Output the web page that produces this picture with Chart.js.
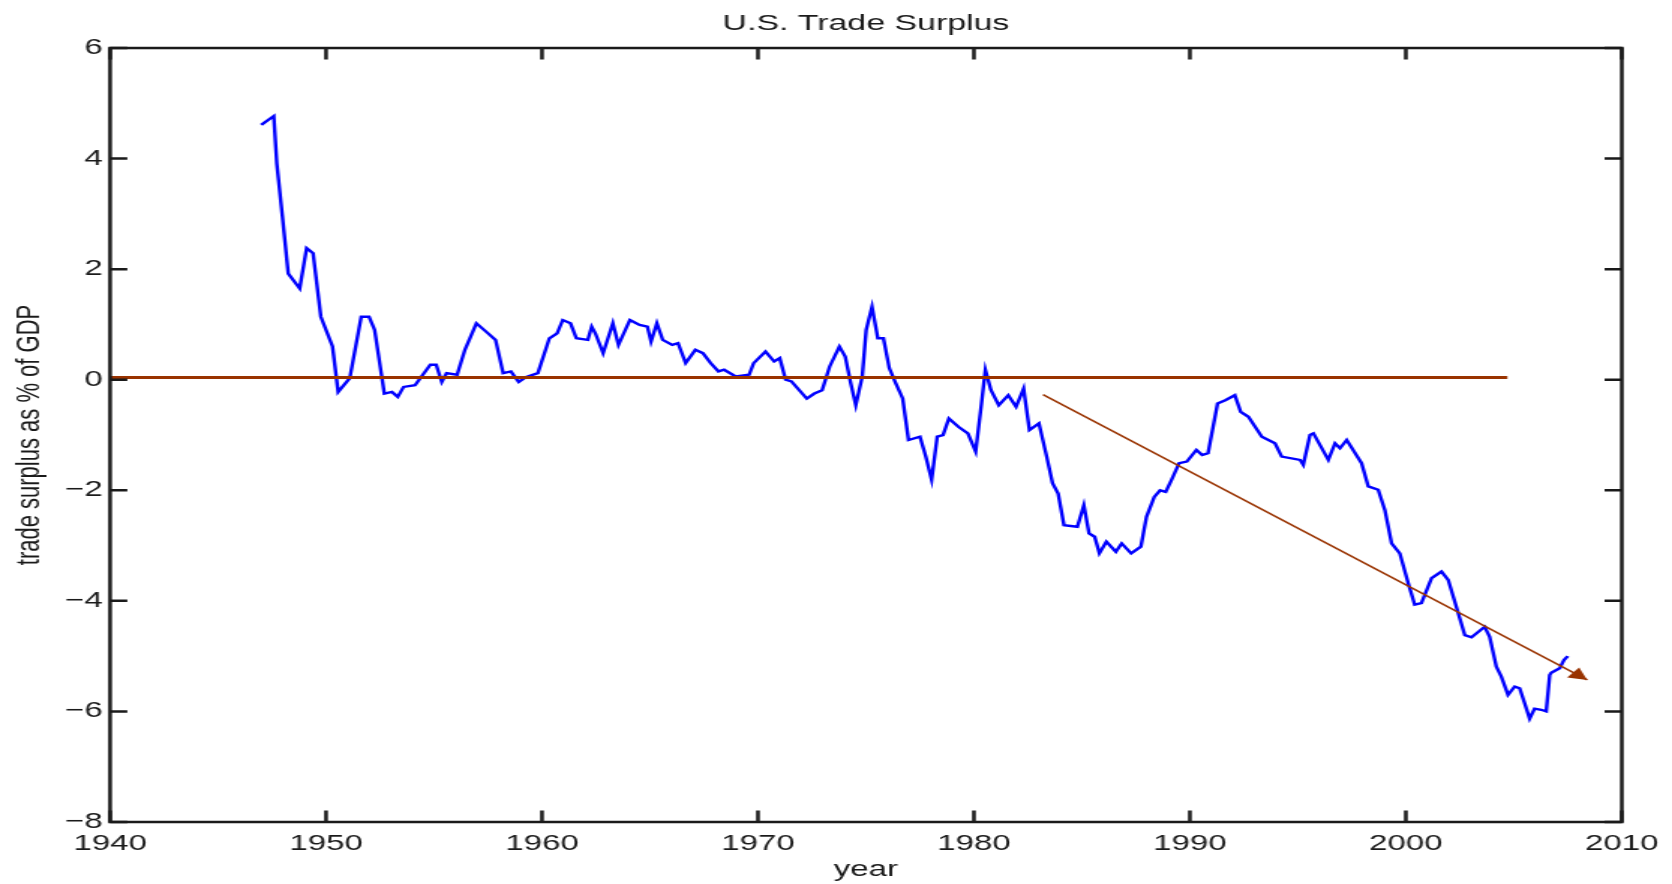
<!DOCTYPE html>
<html>
<head>
<meta charset="utf-8">
<title>U.S. Trade Surplus</title>
<script src="https://cdn.jsdelivr.net/npm/chart.js@4.4.0/dist/chart.umd.min.js"></script>
<style>
  html, body { margin: 0; padding: 0; background: #fff; overflow: hidden; }
  /* the original figure was stretched sideways, so the chart is drawn narrow and widened */
  #wrap { width: 1115px; height: 884px; transform: scaleX(1.49955); transform-origin: 0 0; }
</style>
</head>
<body>
<div id="wrap"><canvas id="trade-chart"></canvas></div>
<script>
var years = [
  1947.0, 1947.58, 1947.72, 1947.98, 1948.25, 1948.78, 1949.1, 1949.4, 1949.76, 1950.3,
  1950.56, 1951.1, 1951.63, 1951.99, 1952.25, 1952.7, 1953.05, 1953.32, 1953.59, 1954.12,
  1954.83, 1955.1, 1955.36, 1955.58, 1956.07, 1956.43, 1956.96, 1957.41, 1957.85, 1958.2,
  1958.56, 1958.92, 1959.27, 1959.81, 1960.34, 1960.7, 1960.96, 1961.32, 1961.59, 1962.12,
  1962.3, 1962.47, 1962.83, 1963.28, 1963.54, 1964.07, 1964.52, 1964.88, 1965.05, 1965.32,
  1965.59, 1966.03, 1966.3, 1966.65, 1967.1, 1967.45, 1967.81, 1968.17, 1968.43, 1968.97,
  1969.59, 1969.8, 1970.35, 1970.75, 1971.01, 1971.28, 1971.55, 1972.26, 1972.61, 1972.97,
  1973.32, 1973.77, 1974.04, 1974.3, 1974.53, 1974.83, 1975.01, 1975.28, 1975.55, 1975.81,
  1976.08, 1976.35, 1976.7, 1976.97, 1977.5, 1977.77, 1978.04, 1978.3, 1978.57, 1978.84,
  1979.28, 1979.72, 1980.08, 1980.35, 1980.53, 1980.79, 1981.15, 1981.59, 1981.95, 1982.3,
  1982.57, 1983.01, 1983.37, 1983.64, 1983.9, 1984.17, 1984.79, 1985.09, 1985.33, 1985.59,
  1985.81, 1986.13, 1986.57, 1986.84, 1987.28, 1987.73, 1987.99, 1988.35, 1988.62, 1988.88,
  1989.15, 1989.5, 1989.86, 1990.3, 1990.57, 1990.84, 1991.28, 1991.64, 1992.08, 1992.35,
  1992.71, 1993.33, 1993.94, 1994.25, 1995.1, 1995.25, 1995.56, 1995.72, 1996.41, 1996.72,
  1996.95, 1997.26, 1997.95, 1998.26, 1998.72, 1999.03, 1999.34, 1999.72, 2000.11, 2000.41,
  2000.72, 2001.19, 2001.65, 2001.96, 2002.34, 2002.73, 2003.04, 2003.65, 2003.88, 2004.19,
  2004.42, 2004.73, 2005.04, 2005.27, 2005.5, 2005.73, 2005.96, 2006.27, 2006.5, 2006.66,
  2006.73, 2007.12, 2007.32, 2007.5
];
var surplus = [
  4.61, 4.77, 3.91, 2.95, 1.92, 1.65, 2.38, 2.29, 1.14, 0.60,
  -0.22, 0.03, 1.14, 1.14, 0.90, -0.25, -0.22, -0.31, -0.13, -0.10,
  0.27, 0.27, -0.04, 0.12, 0.09, 0.54, 1.02, 0.87, 0.72, 0.12,
  0.15, -0.04, 0.05, 0.12, 0.75, 0.84, 1.08, 1.02, 0.75, 0.72,
  0.96, 0.84, 0.48, 1.02, 0.63, 1.08, 0.99, 0.96, 0.69, 1.02,
  0.72, 0.63, 0.66, 0.30, 0.54, 0.48, 0.30, 0.15, 0.18, 0.06,
  0.09, 0.30, 0.51, 0.33, 0.39, 0.00, -0.03, -0.34, -0.25, -0.19,
  0.24, 0.60, 0.42, -0.07, -0.46, 0.06, 0.90, 1.32, 0.75, 0.75,
  0.21, -0.04, -0.34, -1.09, -1.03, -1.39, -1.81, -1.03, -1.00, -0.70,
  -0.85, -0.97, -1.30, -0.43, 0.18, -0.19, -0.46, -0.28, -0.49, -0.16,
  -0.91, -0.79, -1.39, -1.87, -2.06, -2.63, -2.66, -2.27, -2.78, -2.84,
  -3.14, -2.93, -3.11, -2.96, -3.14, -3.02, -2.48, -2.12, -2.00, -2.03,
  -1.81, -1.51, -1.48, -1.27, -1.36, -1.33, -0.43, -0.37, -0.28, -0.58,
  -0.67, -1.03, -1.15, -1.39, -1.45, -1.54, -1.00, -0.97, -1.45, -1.15,
  -1.24, -1.09, -1.51, -1.93, -1.99, -2.36, -2.96, -3.14, -3.68, -4.07,
  -4.04, -3.59, -3.47, -3.62, -4.11, -4.62, -4.66, -4.47, -4.65, -5.19,
  -5.37, -5.70, -5.55, -5.58, -5.85, -6.13, -5.95, -5.97, -6.00, -5.34,
  -5.30, -5.22, -5.07, -5.00
];

// hand drawn zero line and trend arrow
var zeroYears = [1940, 2004.7];
var zeroValues = [0.04, 0.04];
var trendYears = [1983.2, 2008.4];
var trendValues = [-0.27, -5.43];

var xTicks = [1940, 1950, 1960, 1970, 1980, 1990, 2000, 2010];
var yTicks = [-8, -6, -4, -2, 0, 2, 4, 6];

var inkColor = '#1a1a1a';
var lineRed = '#993300';
var fontFamily = '"Liberation Sans", Arial, Helvetica, sans-serif';

function toPoints(xs, ys) {
  return xs.map(function (x, i) { return { x: x, y: ys[i] }; });
}

// box around the axes with ticks pointing inward on all four sides
var boxPlugin = {
  id: 'matlabBox',
  afterDatasetsDraw: function (chart) {
    var ctx = chart.ctx;
    var a = chart.chartArea;
    var xs = chart.scales.x;
    var ys = chart.scales.y;
    var len = 11.5;
    ctx.save();
    ctx.strokeStyle = inkColor;
    ctx.lineWidth = 2.5;
    ctx.beginPath();
    xTicks.forEach(function (v) {
      var px = xs.getPixelForValue(v);
      ctx.moveTo(px, a.bottom); ctx.lineTo(px, a.bottom - len);
      ctx.moveTo(px, a.top); ctx.lineTo(px, a.top + len);
    });
    yTicks.forEach(function (v) {
      var py = ys.getPixelForValue(v);
      ctx.moveTo(a.left, py); ctx.lineTo(a.left + len, py);
      ctx.moveTo(a.right, py); ctx.lineTo(a.right - len, py);
    });
    ctx.stroke();
    ctx.strokeRect(a.left, a.top, a.right - a.left, a.bottom - a.top);
    ctx.restore();
  }
};

// filled head at the end of the trend arrow
var arrowPlugin = {
  id: 'arrowHead',
  afterDatasetsDraw: function (chart) {
    var pts = chart.getDatasetMeta(2).data;
    var tip = pts[pts.length - 1];
    var from = pts[pts.length - 2];
    var dx = tip.x - from.x, dy = tip.y - from.y;
    var d = Math.sqrt(dx * dx + dy * dy);
    var ux = dx / d, uy = dy / d;
    var L = 12, w = 6.5;
    var ctx = chart.ctx;
    ctx.save();
    ctx.fillStyle = lineRed;
    ctx.beginPath();
    ctx.moveTo(tip.x, tip.y);
    ctx.lineTo(tip.x - L * ux - w * uy, tip.y - L * uy + w * ux);
    ctx.lineTo(tip.x - L * ux + w * uy, tip.y - L * uy - w * ux);
    ctx.closePath();
    ctx.fill();
    ctx.restore();
  }
};

var ctx = document.getElementById('trade-chart');
var tradeChart = new Chart(ctx, {
  type: 'line',
  data: {
    datasets: [
      {
        label: 'trade surplus',
        data: toPoints(years, surplus),
        borderColor: '#0000ff',
        borderWidth: 2.4,
        pointRadius: 0,
        tension: 0,
        fill: false,
        order: 2
      },
      {
        label: 'zero',
        data: toPoints(zeroYears, zeroValues),
        borderColor: lineRed,
        borderWidth: 3,
        pointRadius: 0,
        fill: false,
        order: 1
      },
      {
        label: 'trend',
        data: toPoints(trendYears, trendValues),
        borderColor: lineRed,
        borderWidth: 1.5,
        pointRadius: 0,
        fill: false,
        order: 1
      }
    ]
  },
  options: {
    responsive: true,
    maintainAspectRatio: false,
    animation: false,
    layout: { padding: { left: 0, right: 32, top: 0, bottom: 0 } },
    plugins: {
      legend: { display: false },
      tooltip: { enabled: false },
      title: {
        display: true,
        text: 'U.S. Trade Surplus',
        fullSize: false,
        color: inkColor,
        font: { family: fontFamily, size: 22.6, weight: 'normal' },
        padding: { top: 10.6, bottom: 10.3 }
      }
    },
    scales: {
      x: {
        type: 'linear',
        min: 1940,
        max: 2010,
        grid: { display: false, drawTicks: false },
        border: { display: false },
        afterBuildTicks: function (scale) {
          scale.ticks = xTicks.map(function (v) { return { value: v }; });
        },
        afterFit: function (scale) { scale.height = 62; },
        ticks: {
          padding: 9,
          maxRotation: 0,
          autoSkip: false,
          color: inkColor,
          font: { family: fontFamily, size: 22 },
          callback: function (v) { return String(v); }
        },
        title: {
          display: true,
          text: 'year',
          color: inkColor,
          font: { family: fontFamily, size: 22 },
          padding: { top: 0, bottom: 1 }
        }
      },
      y: {
        min: -8,
        max: 6,
        grid: { display: false, drawTicks: false },
        border: { display: false },
        afterBuildTicks: function (scale) {
          scale.ticks = yTicks.map(function (v) { return { value: v }; });
        },
        afterFit: function (scale) { scale.width = 73.4; },
        ticks: {
          padding: 5,
          color: inkColor,
          font: { family: fontFamily, size: 22 },
          callback: function (v) { return v < 0 ? '\u2212' + Math.abs(v) : String(v); }
        },
        title: {
          display: true,
          text: 'trade surplus as % of GDP',
          color: inkColor,
          font: { family: fontFamily, size: 22 },
          padding: { top: 6.5, bottom: 0 }
        }
      }
    }
  },
  plugins: [arrowPlugin, boxPlugin]
});
</script>
</body>
</html>
